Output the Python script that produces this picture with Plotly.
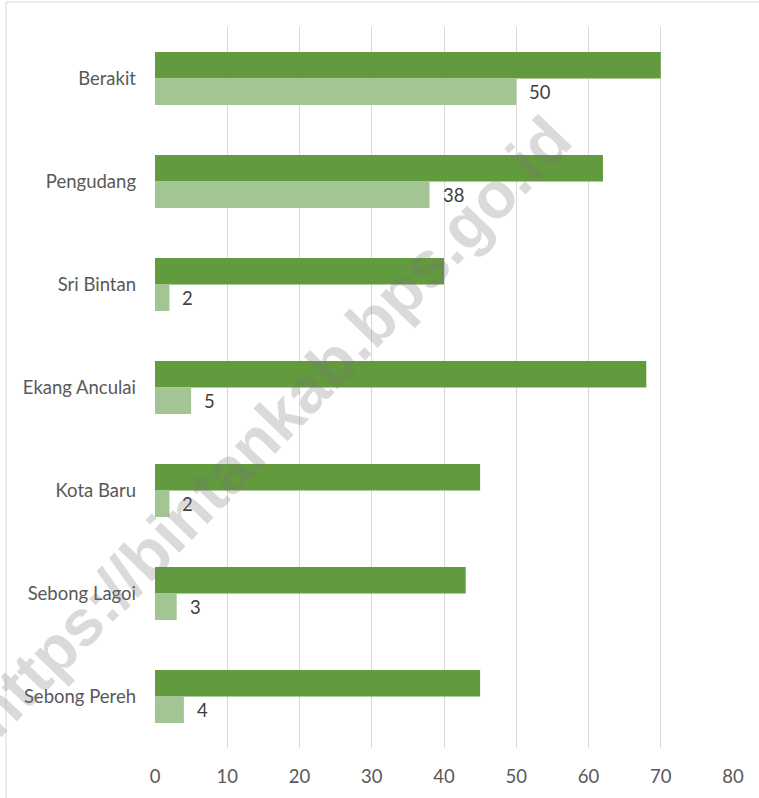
import plotly.graph_objects as go

categories = ["Berakit", "Pengudang", "Sri Bintan", "Ekang Anculai",
              "Kota Baru", "Sebong Lagoi", "Sebong Pereh"]
series_dark = [70, 62, 40, 68, 45, 43, 45]
series_light = [50, 38, 2, 5, 2, 3, 4]
x_ticks = [0, 10, 20, 30, 40, 50, 60, 70, 80]

DARK = "#629A3E"
LIGHT = "#A3C593"
FONT = "Lato"
FS = 18.5

fig = go.Figure()
fig.add_trace(go.Bar(y=categories, x=series_dark, orientation="h",
                     marker=dict(color=DARK, line=dict(width=0)),
                     showlegend=False, hoverinfo="skip"))
fig.add_trace(go.Bar(y=categories, x=series_light, orientation="h",
                     marker=dict(color=LIGHT, line=dict(width=0)),
                     showlegend=False, hoverinfo="skip"))

for c, v in zip(categories, series_light):
    fig.add_annotation(x=v, y=c, xref="x", yref="y", text=str(v),
                       showarrow=False, xanchor="left", yanchor="middle",
                       xshift=11, yshift=-13,
                       font=dict(family=FONT, size=FS, color="#404040"))

# watermark
fig.add_annotation(x=(270 - 155) / 578, y=1 - (426 - 27) / 721, xref="paper", yref="paper",
                   text="<b>https://bintankab.bps.go.id</b>", showarrow=False,
                   textangle=-46, xanchor="center", yanchor="middle",
                   font=dict(family="Liberation Sans", size=65, color="rgba(120,120,120,0.27)"))

fig.update_layout(
    width=759, height=798,
    margin=dict(l=155, r=26, t=27, b=50),
    paper_bgcolor="white", plot_bgcolor="white",
    barmode="group", bargap=0.485, bargroupgap=0,
    font=dict(family=FONT, size=FS, color="#595959"),
    xaxis=dict(range=[0, 80], tickvals=x_ticks, showgrid=True,
               gridcolor="#D9D9D9", gridwidth=1, zeroline=False,
               showline=False, ticks="", ticklabelstandoff=15,
               tickfont=dict(family=FONT, size=FS, color="#595959")),
    yaxis=dict(autorange="reversed", showgrid=False, zeroline=False,
               showline=False, ticks="", ticklabelstandoff=18,
               tickfont=dict(family=FONT, size=FS, color="#595959")),
    shapes=[
        dict(type="line", xref="paper", yref="paper",
             x0=-149 / 578, x1=1 + 26 / 578, y0=1 + 25 / 721, y1=1 + 25 / 721,
             line=dict(color="#D9D9D9", width=1)),
        dict(type="line", xref="paper", yref="paper",
             x0=-149 / 578, x1=-149 / 578, y0=1 + 25 / 721, y1=-50 / 721,
             line=dict(color="#D9D9D9", width=1)),
    ],
)

fig.write_html("out.html", config={"displayModeBar": False},
               post_script="document.body.style.margin='0';document.body.style.overflow='hidden';")
